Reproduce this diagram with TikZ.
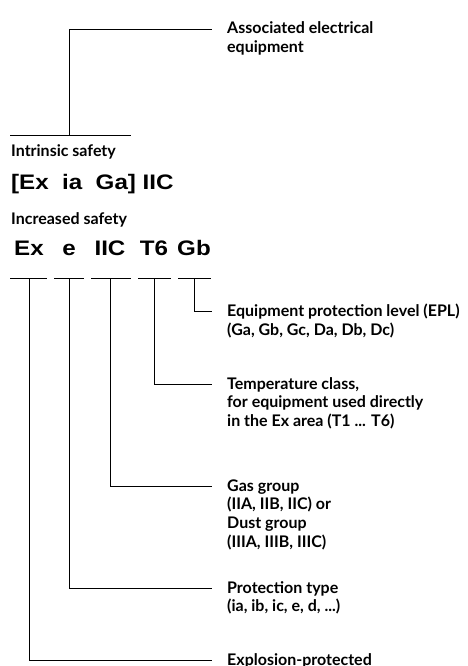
\documentclass[tikz,border=0pt]{standalone}
\usepackage{fontspec}
\setmainfont{Lato}
\newfontfamily\codefont[FakeStretch=1.15]{Liberation Sans}
\usetikzlibrary{positioning}

\newcommand\lbllines[1]{\begin{tabular}[t]{@{}l@{}}#1\end{tabular}}

\tikzset{
  lbl/.style={anchor=base west, inner sep=0pt,
    font=\bfseries\fontsize{16}{18.7}\selectfont},
  code/.style={anchor=base, inner sep=0pt,
    font=\codefont\bfseries\fontsize{21}{24}\selectfont},
  tick/.style={line width=0.9pt},
}

\begin{document}
\begin{tikzpicture}[x=1pt,y=-1pt]
    \useasboundingbox (0,0) rectangle (467,666);

    % associated equipment
    \node[lbl] (alb) at (227,34) {\lbllines{Associated electrical\\equipment}};
    \coordinate (atop) at (69,135);
    \draw[tick] (10,135) -- (131,135);
    \draw[tick] (atop) |- ([xshift=-15pt,yshift=5pt]alb.base west);

    \node[lbl] (intr) at (11,157) {Intrinsic safety};
    \node[code, anchor=base west] (iscode) at (11,189.5) {[Ex\ \ ia\ \ Ga] IIC};
    \node[lbl] (incr) at (11,224) {Increased safety};

    % marking codes
    \node[code] (cEx) at (29,255.5) {Ex};
    \node[code] (ce) at (69,255.5) {e};
    \node[code] (cIIC) at (110,255.5) {IIC};
    \node[code] (cT6) at (154,255.5) {T6};
    \node[code] (cGb) at (194,255.5) {Gb};

    \coordinate (brk) at (0,278);
    \foreach \a/\b in {10/47, 54/84, 91/131, 138/171, 178/211}
        \draw[tick] (\a,278) -- (\b,278);

    % explanations
    \node[lbl] (epl) at (227,316.7) {\lbllines{Equipment protection level (EPL)\\(Ga, Gb, Gc, Da, Db, Dc)}};
    \node[lbl] (temp) at (227,389) {\lbllines{Temperature class,\\for equipment used directly\\in the Ex area (T1 ... T6)}};
    \node[lbl] (gas) at (227,491) {\lbllines{Gas group\\(IIA, IIB, IIC) or\\Dust group\\(IIIA, IIIB, IIIC)}};
    \node[lbl] (prot) at (227,593) {\lbllines{Protection type\\(ia, ib, ic, e, d, ...)}};
    \node[lbl] (expl) at (227,665) {Explosion-protected};

    \draw[tick] (cGb |- brk) |- ([xshift=-15pt,yshift=5pt]epl.base west);
    \draw[tick] (cT6 |- brk) |- ([xshift=-15pt,yshift=5pt]temp.base west);
    \draw[tick] (cIIC |- brk) |- ([xshift=-15pt,yshift=5pt]gas.base west);
    \draw[tick] (ce |- brk) |- ([xshift=-15pt,yshift=5pt]prot.base west);
    \draw[tick] (cEx |- brk) |- ([xshift=-15pt,yshift=5pt]expl.base west);
\end{tikzpicture}
\end{document}
